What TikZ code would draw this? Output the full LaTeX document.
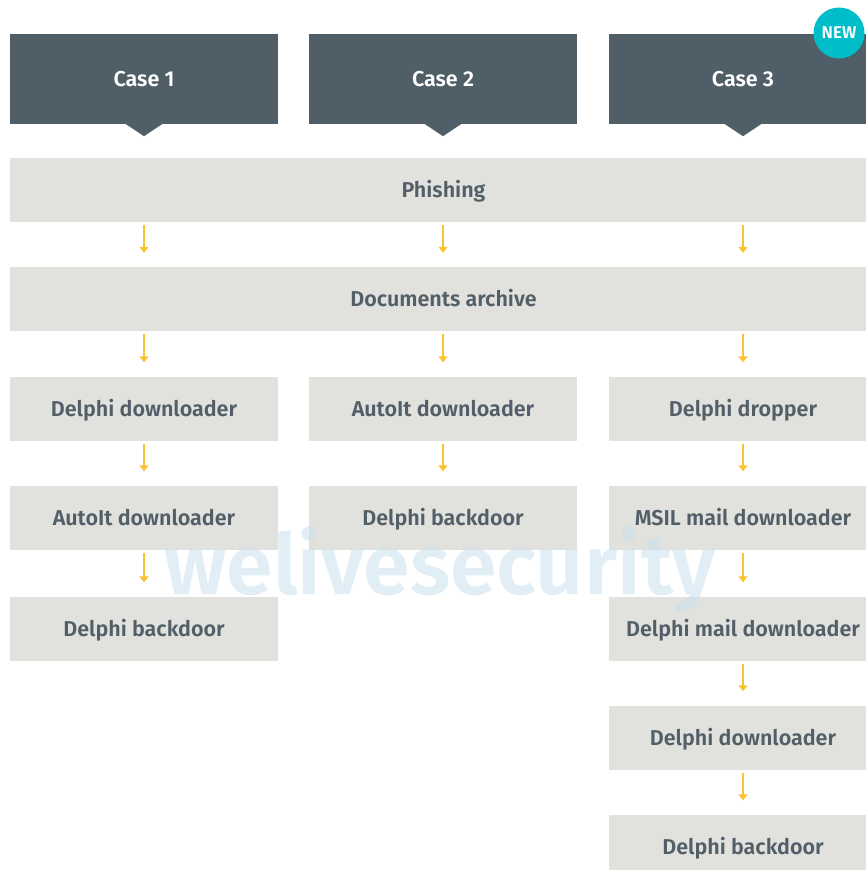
\documentclass[tikz,border=0pt]{standalone}
\usepackage{fontspec}
\setmainfont{Fira Sans}[BoldFont={Fira Sans SemiBold}]
\usetikzlibrary{arrows.meta}
\definecolor{headgray}{RGB}{80,94,104}
\definecolor{boxgray}{RGB}{225,225,221}
\definecolor{textgray}{RGB}{82,95,104}
\definecolor{flowyellow}{RGB}{248,194,48}
\definecolor{newcyan}{RGB}{0,190,201}
\definecolor{markblue}{RGB}{200,224,238}

\begin{document}
\begin{tikzpicture}[x=1pt,y=-1pt,
    every node/.style={font=\fontsize{21.5}{24}\selectfont\bfseries},
    casebox/.style={fill=headgray,text=white,minimum width=268pt,minimum height=90pt,inner sep=0pt},
    stage/.style={fill=boxgray,text=textgray,minimum width=268pt,minimum height=64pt,inner sep=0pt,
      text height=20pt,text depth=5pt},
    bar/.style={stage,minimum width=867pt},
    flow/.style={draw=flowyellow,line width=1.8pt,-{Triangle[length=6pt,width=9pt]},shorten <=3pt,shorten >=14pt}]
  \useasboundingbox (0,0) rectangle (866,870);
  \clip (0,0) rectangle (866,870);
  % case headers
  \node[casebox] (h1) at (144,79) {Case 1};
  \node[casebox] (h2) at (443,79) {Case 2};
  \node[casebox] (h3) at (743,79) {Case 3};
  \foreach \h in {h1,h2,h3}
    \fill[headgray] ([xshift=-18pt]\h.south) -- ([xshift=18pt]\h.south) -- ([yshift=-12pt]\h.south) -- cycle;
  \node[circle,fill=newcyan,text=white,minimum size=51pt,inner sep=0pt,
    font=\fontsize{17}{17}\selectfont\bfseries] (badge) at (839,33) {NEW};
  % shared stages
  \node[bar] (phish) at (443.5,190) {Phishing};
  \node[bar] (docs) at (443.5,299) {Documents archive};
  % case 1
  \node[stage] (a1) at (144,408.5) {Delphi downloader};
  \node[stage] (a2) at (144,517.5) {AutoIt downloader};
  \node[stage] (a3) at (144,628.5) {Delphi backdoor};
  % case 2
  \node[stage] (b1) at (443,408.5) {AutoIt downloader};
  \node[stage] (b2) at (443,517.5) {Delphi backdoor};
  % case 3
  \node[stage] (c1) at (743,408.5) {Delphi dropper};
  \node[stage] (c2) at (743,517.5) {MSIL mail downloader};
  \node[stage] (c3) at (743,628.5) {Delphi mail downloader};
  \node[stage] (c4) at (743,737.5) {Delphi downloader};
  \node[stage] (c5) at (743,846.5) {Delphi backdoor};
  % arrows
  \foreach \h in {h1,h2,h3} {
    \draw[flow] (phish.south -| \h) -- (docs.north -| \h);
  }
  \draw[flow] (docs.south -| a1) -- (a1);
  \draw[flow] (docs.south -| b1) -- (b1);
  \draw[flow] (docs.south -| c1) -- (c1);
  \draw[flow] (a1) -- (a2);
  \draw[flow] (a2) -- (a3);
  \draw[flow] (b1) -- (b2);
  \draw[flow] (c1) -- (c2);
  \draw[flow] (c2) -- (c3);
  \draw[flow] (c3) -- (c4);
  \draw[flow] (c4) -- (c5);
  % watermark
  \node[text=markblue,opacity=0.55,font=\fontsize{84}{84}\selectfont\bfseries] (mark) at (440,570) {welivesecurity};
\end{tikzpicture}
\end{document}
